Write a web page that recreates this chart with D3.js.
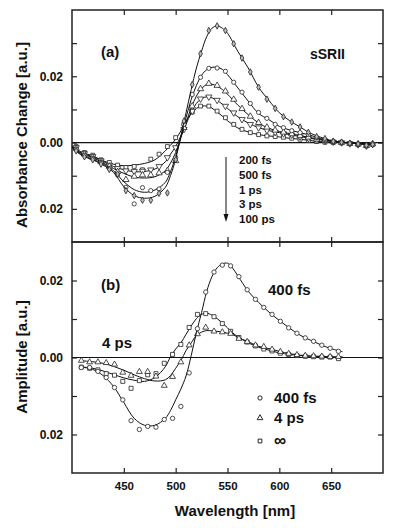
<!DOCTYPE html>
<html><head><meta charset="utf-8">
<script src="https://cdn.jsdelivr.net/npm/d3@7"></script>
<style>
html,body{margin:0;padding:0;background:#fff;}
svg{display:block;}
text{font-family:"Liberation Sans",Arial,Helvetica,sans-serif;font-weight:bold;fill:#111;}
</style>
</head><body>
<svg id="c" width="400" height="528"></svg>
<script>
// ---------- DATA ----------
// Panel (a): fitted curves
const fitWlA = [400,410,420,430,440,450,460,470,480,490,495,500,505,510,515,520,525,530,535,540,545,550,560,570,580,590,600,610,620,630,640,650,660,670,680,690];
const fitA_200fs = [-0.0015,-0.004,-0.0052,-0.0068,-0.009,-0.0133,-0.016,-0.0168,-0.0162,-0.0135,-0.010,-0.005,0.002,0.009,0.016,0.0225,0.0276,0.032,0.0345,0.0352,0.0345,0.033,0.0275,0.0225,0.0167,0.0127,0.009,0.0066,0.0047,0.0028,0.0016,0.0006,0.0002,-0.0002,-0.0004,-0.0005];
const fitA_500fs = [-0.0015,-0.0038,-0.005,-0.0065,-0.0085,-0.0118,-0.0142,-0.015,-0.0143,-0.012,-0.0088,-0.0042,0.0015,0.0075,0.013,0.0172,0.0203,0.022,0.0227,0.0227,0.0221,0.0205,0.0165,0.0125,0.0088,0.0069,0.0049,0.0038,0.003,0.0022,0.0012,0.0005,0.0001,-0.0002,-0.0004,-0.0005];
const fitA_1ps = [-0.0013,-0.0035,-0.0045,-0.0062,-0.0078,-0.0093,-0.0104,-0.0107,-0.0103,-0.0085,-0.0062,-0.003,0.0015,0.006,0.0105,0.014,0.0163,0.0175,0.0176,0.017,0.016,0.0146,0.0113,0.0084,0.0059,0.0043,0.0033,0.0027,0.0021,0.0015,0.0009,0.0004,0.0001,-0.0002,-0.0004,-0.0005];
const fitA_3ps = [-0.0012,-0.0033,-0.0042,-0.0057,-0.0072,-0.0082,-0.0088,-0.0087,-0.008,-0.0058,-0.0035,-0.0012,0.002,0.0055,0.009,0.0118,0.0133,0.0138,0.0135,0.0127,0.0116,0.0103,0.0078,0.0059,0.0045,0.0036,0.003,0.0024,0.0018,0.0013,0.0008,0.0004,0.0001,-0.0002,-0.0004,-0.0005];
const fitA_100ps = [-0.0012,-0.003,-0.004,-0.0055,-0.0065,-0.007,-0.0068,-0.0063,-0.0052,-0.0025,-0.0008,0.001,0.0035,0.0065,0.0088,0.0103,0.011,0.011,0.0104,0.0092,0.008,0.0066,0.0044,0.0032,0.0024,0.002,0.0017,0.0013,0.001,0.0006,0.0003,0.0001,0,-0.0002,-0.0004,-0.0005];

// Panel (a): measured points
const symWlA = [404,412,420,428,436,444,452,460,468,476,484,492,500,508,516,524,532,540,548,556,564,572,580,588,596,604,612,620,628,636,644,652,660,668,676,684,690];
const ptsA_200fs = [-0.0025,-0.0043,-0.0052,-0.0065,-0.0081,-0.0095,-0.0145,-0.016,-0.0174,-0.0174,-0.0153,-0.0152,-0.0052,0.0065,0.0175,0.0268,0.0338,0.0352,0.0338,0.0298,0.0255,0.0213,0.0167,0.0131,0.0103,0.0078,0.0062,0.0047,0.0031,0.0018,0.0012,0.0004,0.0001,-0.0002,-0.0004,-0.0008,-0.0006];
const ptsA_500fs = [-0.002,-0.0038,-0.0048,-0.006,-0.0078,-0.0098,-0.0135,-0.0185,-0.0136,-0.0145,-0.014,-0.009,-0.0045,0.0055,0.0145,0.0197,0.0224,0.0225,0.0215,0.0182,0.0152,0.0118,0.0091,0.0073,0.0055,0.0045,0.0036,0.003,0.0024,0.0015,0.0008,0.0003,0.0001,-0.0003,-0.0005,-0.0009,-0.0004];
const ptsA_1ps = [-0.0018,-0.0035,-0.0045,-0.0058,-0.0072,-0.0088,-0.0112,-0.0102,-0.0098,-0.0098,-0.0092,-0.0085,-0.0055,0.0045,0.011,0.0162,0.0178,0.0172,0.0155,0.013,0.0102,0.0079,0.006,0.0046,0.0037,0.0031,0.0026,0.0021,0.0016,0.001,0.0006,0.0003,0,-0.0003,-0.0005,-0.0009,-0.0004];
const ptsA_3ps = [-0.0015,-0.0033,-0.0042,-0.0055,-0.0068,-0.0078,-0.0085,-0.0087,-0.0086,-0.0082,-0.0072,-0.0045,-0.0015,0.004,0.0095,0.0132,0.0138,0.0128,0.011,0.009,0.007,0.0055,0.0045,0.0037,0.0031,0.0027,0.0023,0.0018,0.0013,0.0008,0.0005,0.0002,0,-0.0003,-0.0006,-0.001,-0.0005];
const ptsA_100ps = [-0.0012,-0.003,-0.0038,-0.0052,-0.006,-0.0068,-0.0075,-0.0072,-0.0082,-0.005,-0.0035,-0.0012,0.0015,0.0055,0.0092,0.011,0.011,0.0095,0.0075,0.0055,0.004,0.003,0.0024,0.002,0.0018,0.0016,0.0013,0.001,0.0006,0.0003,0.0001,0,-0.0001,-0.0003,-0.0005,-0.001,-0.0006];

// Panel (b): fitted curves
const fitWlB = [407,420,430,440,450,460,470,480,490,495,500,505,510,515,520,525,530,535,540,545,550,555,560,570,580,590,600,610,620,630,640,650,661];
const fitB_400fs = [-0.0024,-0.0031,-0.0047,-0.0075,-0.0117,-0.0158,-0.0176,-0.0176,-0.0158,-0.0138,-0.011,-0.0082,-0.0048,0.0005,0.0065,0.0117,0.0172,0.021,0.0233,0.0243,0.0245,0.0232,0.0212,0.0172,0.0143,0.0118,0.0096,0.0076,0.0058,0.0045,0.0033,0.0023,0.0015];
const fitB_4ps = [-0.0008,-0.0011,-0.0015,-0.0023,-0.0033,-0.0045,-0.0055,-0.0061,-0.0058,-0.0047,-0.0028,-0.0008,0.0018,0.0038,0.0057,0.0066,0.007,0.0069,0.0068,0.0066,0.0063,0.006,0.0052,0.0041,0.0029,0.0023,0.0016,0.001,0.0006,0.0004,0.0003,0.0002,0.0001];
const fitB_inf = [-0.0024,-0.0028,-0.0035,-0.0044,-0.0053,-0.0059,-0.0062,-0.0052,-0.0024,0.0002,0.0022,0.0038,0.006,0.0082,0.0101,0.0112,0.0115,0.011,0.0101,0.009,0.0077,0.0064,0.0054,0.0038,0.0027,0.0019,0.0012,0.0008,0.0005,0.0003,0.0002,0.0001,0.0001];

// Panel (b): measured points
const symWlB = [409,417,425,433,441,449,457,465,473,481,489,497,505,513,521,529,537,545,553,561,569,577,585,593,601,609,617,625,633,641,649,657];
const ptsB_400fs = [-0.0026,-0.0026,-0.0036,-0.0052,-0.0078,-0.011,-0.0164,-0.0187,-0.0179,-0.0181,-0.0161,-0.0158,-0.0127,-0.004,0.0075,0.017,0.0222,0.024,0.0238,0.021,0.0176,0.0151,0.013,0.0112,0.0094,0.0077,0.0063,0.0051,0.0042,0.0032,0.0024,0.0016];
const ptsB_4ps = [-0.0008,-0.0012,-0.0012,-0.0014,-0.0018,-0.0039,-0.0047,-0.0037,-0.0037,-0.0049,-0.0073,-0.005,-0.0012,0.0032,0.0061,0.0078,0.0068,0.0066,0.0062,0.0049,0.0041,0.0032,0.0028,0.0021,0.0015,0.001,0.0007,0.0005,0.0004,0.0003,0.0002,0.0002];
const ptsB_inf = [-0.0025,-0.0028,-0.0032,-0.0042,-0.0046,-0.0062,-0.008,-0.006,-0.0045,-0.0042,-0.0015,0.0008,0.0034,0.0078,0.0112,0.0114,0.0106,0.0088,0.0068,0.0052,0.004,0.003,0.0022,0.0017,0.0011,0.0008,0.0005,0.0003,0.0002,0.0001,0.0001,-0.0003];

// Ticks & labels
const xTicks = [450,500,550,600,650];
const yTicksA = [-0.02,-0.01,0,0.01,0.02,0.03];
const yTicksB = [-0.02,-0.01,0,0.01,0.02];
const yLabelled = [-0.02,0,0.02];
const legendA = ["200 fs","500 fs","1 ps","3 ps","100 ps"];
const legendB = ["400 fs","4 ps","\u221E"];

// ---------- DRAW ----------
const svg = d3.select("#c");
const L=72, R=383, T=10, M=242, B=473;
const x = d3.scaleLinear().domain([400,700]).range([L,R]);
const yA = d3.scaleLinear().domain([-0.03,0.04]).range([M,T]);
const yB = d3.scaleLinear().domain([-0.03,0.03]).range([B,M]);

const fmtY = d => yLabelled.some(v => Math.abs(v-d)<1e-9) ? d3.format(".2f")(Math.abs(d)) : "";

function axes(y, yTicks, top, bottom, showXLabels){
  const gl = svg.append("g").attr("transform",`translate(${L},0)`)
    .call(d3.axisLeft(y).tickValues(yTicks).tickSizeInner(-5).tickSizeOuter(0).tickPadding(9).tickFormat(fmtY));
  gl.selectAll("text").style("font-size","12px");
  svg.append("g").attr("transform",`translate(${R},0)`)
    .call(d3.axisRight(y).tickValues(yTicks).tickSizeInner(-5).tickSizeOuter(0).tickFormat(""));
  svg.append("g").attr("transform",`translate(0,${top})`)
    .call(d3.axisTop(x).tickValues(xTicks).tickSizeInner(-5).tickSizeOuter(0).tickFormat(""));
  const gb = svg.append("g").attr("transform",`translate(0,${bottom})`)
    .call(d3.axisBottom(x).tickValues(xTicks).tickSizeInner(-5).tickSizeOuter(0).tickPadding(9)
      .tickFormat(showXLabels ? d3.format("d") : ""));
  gb.selectAll("text").style("font-size","11.5px");
  svg.append("line").attr("x1",L).attr("x2",R).attr("y1",y(0)).attr("y2",y(0))
    .attr("stroke","#111").attr("stroke-width",1.2);
}
axes(yA, yTicksA, T, M, false);
axes(yB, yTicksB, M, B, true);
svg.selectAll(".domain").remove();
svg.selectAll(".tick line").attr("stroke","#222").attr("stroke-width",1.2);
svg.selectAll(".tick text").attr("fill","#111").style("font-family","'Liberation Sans',Arial,sans-serif").style("font-weight","bold");

[[T,M],[M,B]].forEach(([t,b]) => {
  svg.append("rect").attr("x",L).attr("y",t).attr("width",R-L).attr("height",b-t)
    .attr("fill","none").attr("stroke","#222").attr("stroke-width",1.5);
});

function drawSeries(y, wlFit, fit, wlPts, pts, sym, size, fill){
  const line = d3.line().x(d=>x(d[0])).y(d=>y(d[1])).curve(d3.curveCatmullRom.alpha(0.5));
  svg.append("path").datum(d3.zip(wlFit, fit)).attr("d", line)
    .attr("fill","none").attr("stroke","#111").attr("stroke-width",1);
  svg.append("g").selectAll("path").data(d3.zip(wlPts, pts)).join("path")
    .attr("transform", d=>`translate(${x(d[0])},${y(d[1])})`)
    .attr("d", d3.symbol().type(sym).size(size))
    .attr("fill", fill).attr("stroke","#222").attr("stroke-width",0.8);
}
const triDown = {draw(ctx, size){ const s=Math.sqrt(size/(Math.sqrt(3)/4)); const h=s*Math.sqrt(3)/2;
  ctx.moveTo(-s/2,-h/3); ctx.lineTo(s/2,-h/3); ctx.lineTo(0,2*h/3); ctx.closePath(); }};

drawSeries(yA, fitWlA, fitA_100ps, symWlA, ptsA_100ps, d3.symbolSquare, 15, "#fff");
drawSeries(yA, fitWlA, fitA_3ps, symWlA, ptsA_3ps, triDown, 17, "#fff");
drawSeries(yA, fitWlA, fitA_1ps, symWlA, ptsA_1ps, d3.symbolTriangle, 17, "#fff");
drawSeries(yA, fitWlA, fitA_500fs, symWlA, ptsA_500fs, d3.symbolCircle, 14, "#fff");
drawSeries(yA, fitWlA, fitA_200fs, symWlA, ptsA_200fs, d3.symbolDiamond, 12, "#bbb");

drawSeries(yB, fitWlB, fitB_inf, symWlB, ptsB_inf, d3.symbolSquare, 16, "#fff");
drawSeries(yB, fitWlB, fitB_4ps, symWlB, ptsB_4ps, d3.symbolTriangle, 15, "#fff");
drawSeries(yB, fitWlB, fitB_400fs, symWlB, ptsB_400fs, d3.symbolCircle, 15, "#fff");

svg.append("text").attr("transform","translate(27,135) rotate(-90)").attr("text-anchor","middle")
  .style("font-size","15px").text("Absorbance Change [a.u.]");
svg.append("text").attr("transform","translate(27,357) rotate(-90)").attr("text-anchor","middle")
  .style("font-size","15px").text("Amplitude [a.u.]");
svg.append("text").attr("x",235).attr("y",516).attr("text-anchor","middle")
  .style("font-size","15px").text("Wavelength [nm]");

svg.append("text").attr("x",101).attr("y",57).style("font-size","15px").text("(a)");
svg.append("text").attr("x",310).attr("y",59).style("font-size","14px").text("sSRII");
svg.append("text").attr("x",101).attr("y",290).style("font-size","15px").text("(b)");
svg.append("text").attr("x",268).attr("y",295).style("font-size","15px").text("400 fs");
svg.append("text").attr("x",102).attr("y",348).style("font-size","15px").text("4 ps");

svg.append("line").attr("x1",226).attr("x2",226).attr("y1",157).attr("y2",218)
  .attr("stroke","#111").attr("stroke-width",1);
svg.append("path").attr("d","M223.5,214 L228.5,214 L226,222 Z").attr("fill","#111");
svg.append("g").selectAll("text").data(legendA).join("text")
  .attr("x",239).attr("y",(d,i)=>164+i*14.8).style("font-size","11.5px").text(d=>d);

const legSyms = [d3.symbolCircle, d3.symbolTriangle, d3.symbolSquare];
const legY = [398, 418, 441];
svg.append("g").selectAll("path").data(legSyms).join("path")
  .attr("transform",(d,i)=>`translate(260,${legY[i]})`)
  .attr("d",d=>d3.symbol().type(d).size(14)())
  .attr("fill","#fff").attr("stroke","#111").attr("stroke-width",0.9);
svg.append("g").selectAll("text").data(legendB).join("text")
  .attr("x",274).attr("y",(d,i)=>legY[i]+5).style("font-size",(d,i)=>i===2?"17px":"15px").text(d=>d);
</script>
</body></html>
